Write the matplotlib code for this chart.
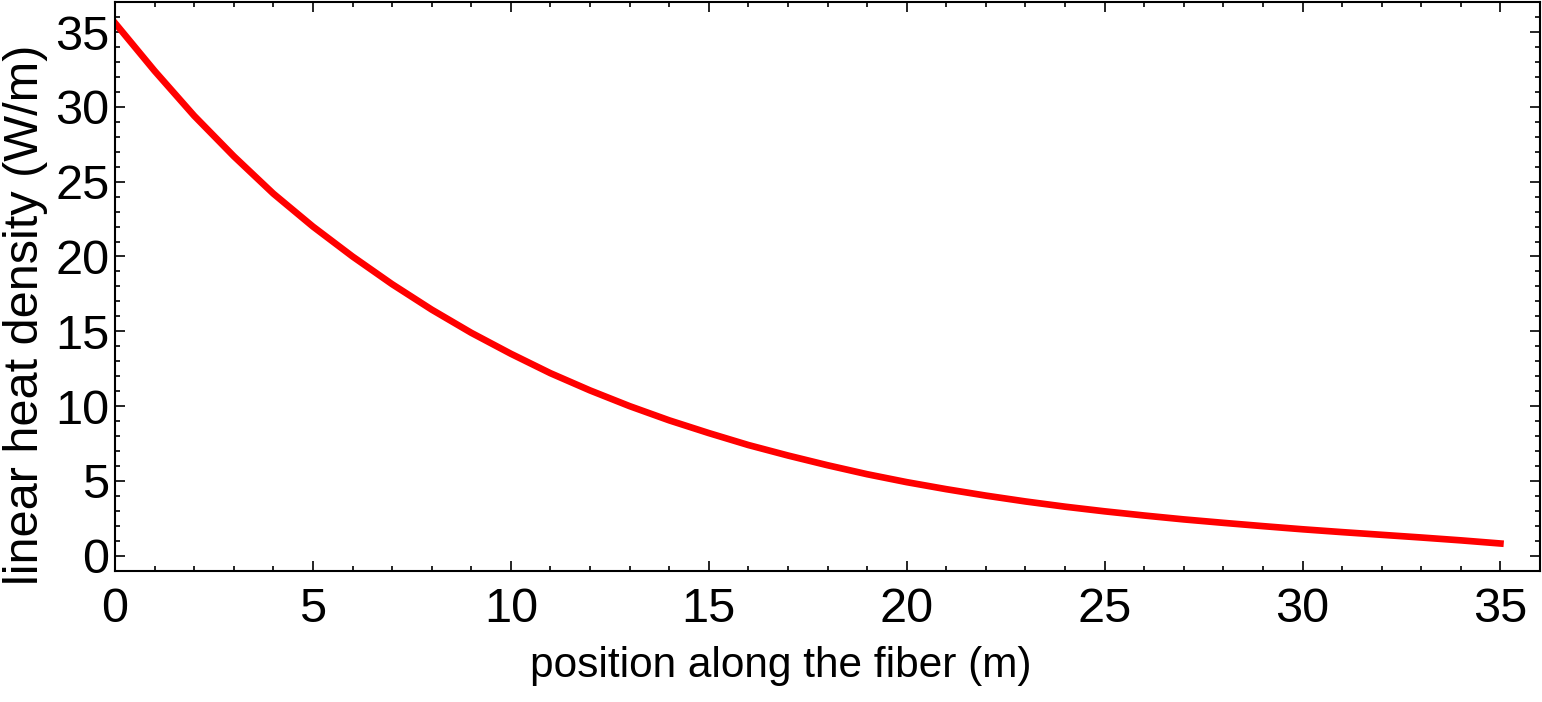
import matplotlib
matplotlib.use("Agg")
import matplotlib.pyplot as plt
from matplotlib.ticker import MultipleLocator

# values, one per metre
position = list(range(0, 36))
heat = [35.6, 32.4, 29.4, 26.7, 24.2, 22.0, 20.0, 18.15, 16.45, 14.9,
        13.5, 12.2, 11.05, 10.0, 9.05, 8.2, 7.4, 6.7, 6.05, 5.45,
        4.92, 4.45, 4.02, 3.63, 3.28, 2.97, 2.69, 2.43, 2.2, 1.98,
        1.77, 1.58, 1.4, 1.22, 1.03, 0.82]

x_ticks = [0, 5, 10, 15, 20, 25, 30, 35]
y_ticks = [0, 5, 10, 15, 20, 25, 30, 35]

plt.rcParams['font.family'] = ['Liberation Sans', 'DejaVu Sans']

fig = plt.figure(figsize=(15.42, 7.02), dpi=100)
ax = fig.add_axes([0.0746, 0.187, 0.9241, 0.810])

ax.plot(position, heat, color=(1, 0, 0), linewidth=4.8,
        solid_capstyle='projecting', solid_joinstyle='round')

ax.set_xlim(0, 36)
ax.set_ylim(-1, 37)
ax.set_xticks(x_ticks)
ax.set_yticks(y_ticks)
ax.xaxis.set_minor_locator(MultipleLocator(1))
ax.yaxis.set_minor_locator(MultipleLocator(1))
ax.tick_params(which='both', direction='in', top=True, right=True, width=1.2)
ax.tick_params(which='major', length=7, labelsize=35)
ax.tick_params(which='minor', length=3.5)
ax.tick_params(axis='x', which='major', pad=12)
ax.tick_params(axis='y', which='major', pad=4)
for s in ax.spines.values():
    s.set_linewidth(1.5)

ax.set_xlabel('position along the fiber (m)', fontsize=30.5)
ax.set_ylabel('linear heat density (W/m)', fontsize=35)
ax.xaxis.set_label_coords(0.467, -0.133)
ax.yaxis.set_label_coords(-0.047, 0.45)

fig.savefig('out.png', dpi=100)
